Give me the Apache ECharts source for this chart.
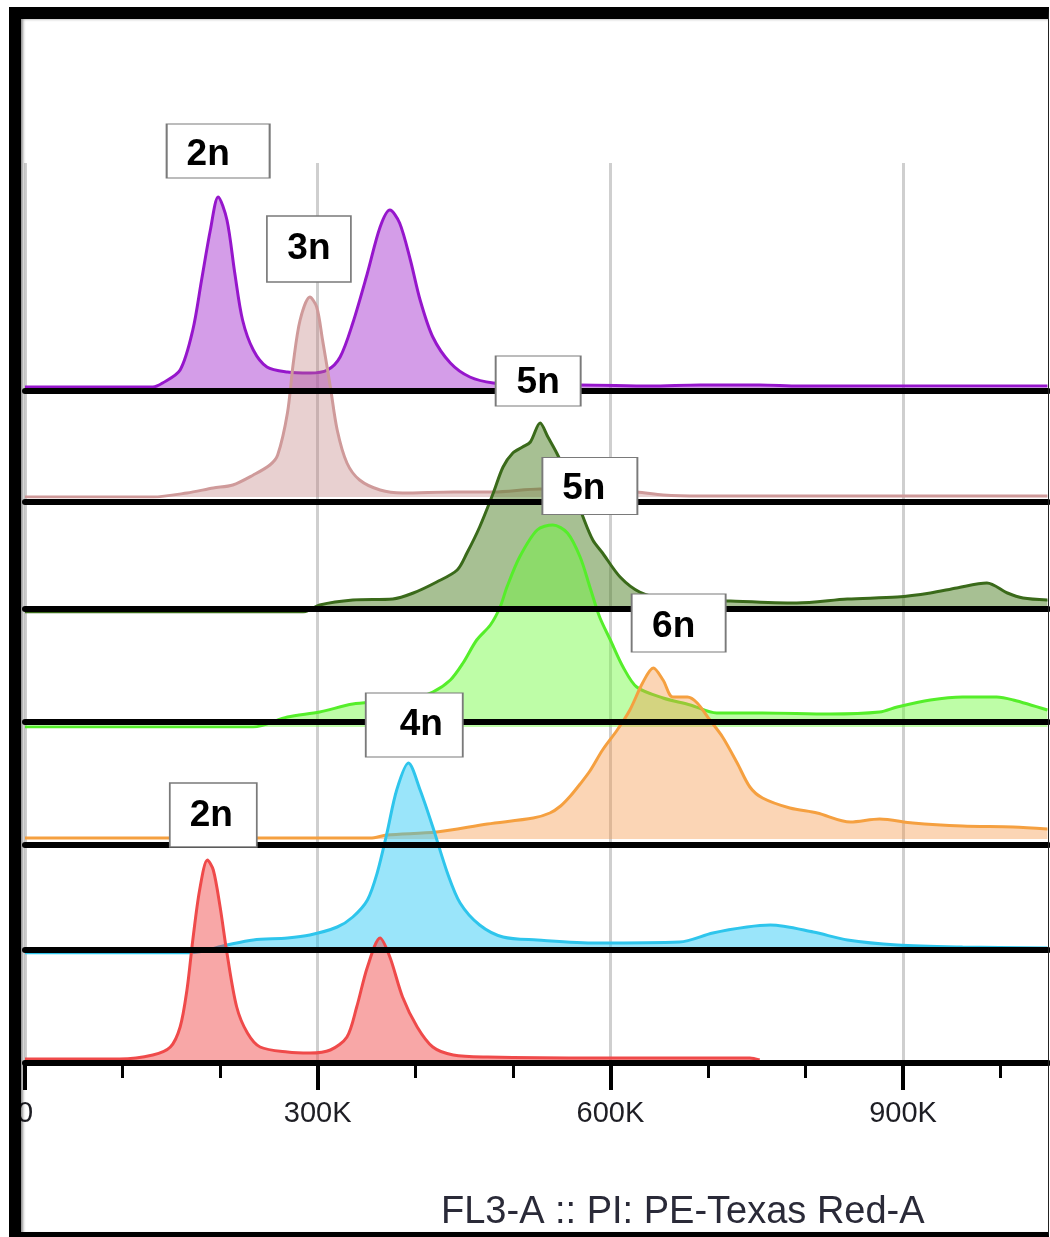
<!DOCTYPE html>
<html>
<head>
<meta charset="utf-8">
<script src="https://cdn.jsdelivr.net/npm/echarts@6/dist/echarts.min.js"></script>
<style>
html, body { margin: 0; padding: 0; background: #fff; }
#wrap { position: relative; width: 1050px; height: 1237px; overflow: hidden; background: #fff; }
#c { position: absolute; left: 0; top: 0; width: 1050px; height: 1237px; }
#frame {
  position: absolute; left: 9px; top: 7px; width: 1040px; height: 1230px;
  box-sizing: border-box;
  border-top: 12px solid #000; border-left: 12px solid #000;
  border-bottom: 5px solid #000; border-right: 1px solid #222;
  box-shadow: inset 3px 1px 3px -1px rgba(0,0,0,0.45);
  pointer-events: none;
}
</style>
</head>
<body>
<div id="wrap"><div id="c"></div><div id="frame"></div></div>
<script>
// ---------------- DATA (FL3-A channel in thousands, event counts) ----------------
const xMaxK = 1048.576;
const tickValues = [0, 300, 600, 900];
const axisTitle = 'FL3-A :: PI: PE-Texas Red-A';
const ploidyLabels = ['2n', '3n', '5n', '5n', '6n', '4n', '2n'];

const purple = [[0,1],[131,1],[141,5],[159,18],[172,58],[181,108],[190,158],[198,191],[207,168],[215,115],[223,68],[234,38],[248,21],[269,16],[292,15],[310,18],[323,31],[336,65],[351,115],[364,161],[374,178],[384,165],[395,128],[405,88],[418,51],[436,25],[456,11],[480,5],[518,3],[569,3],[641,2],[692,3],[753,3],[794,2],[1048,2]];
const pink = [[0,0],[131,0],[166,4],[193,9],[213,12],[234,22],[251,32],[259,42],[269,84],[275,134],[282,177],[292,200],[299,190],[305,157],[313,110],[320,67],[330,34],[343,17],[364,7],[387,4],[439,5],[480,5],[528,8],[589,6],[627,5],[654,2],[692,1],[1048,1]];
const darkGreen = [[0,0],[285,0],[302,7],[336,12],[377,13],[398,19],[422,30],[443,42],[453,59],[466,85],[480,119],[490,145],[500,159],[510,165],[518,170],[528,189],[536,175],[545,159],[559,130],[572,95],[582,72],[592,59],[610,35],[630,20],[654,14],[723,11],[791,9],[843,13],[894,15],[928,19],[955,24],[986,29],[1007,19],[1023,14],[1048,12]];
const brightGreen = [[0,0],[234,0],[269,10],[302,15],[336,23],[364,25],[395,28],[418,35],[436,47],[449,64],[463,87],[477,102],[487,120],[494,140],[507,170],[525,197],[541,202],[556,194],[569,170],[579,140],[589,110],[600,87],[613,60],[627,40],[654,29],[682,22],[709,14],[756,14],[825,13],[876,15],[894,20],[928,27],[961,30],[996,30],[1013,27],[1048,17]];
const orange = [[0,1],[354,1],[371,4],[422,7],[474,15],[521,21],[538,26],[549,33],[559,43],[569,55],[579,68],[592,89],[607,109],[620,129],[633,156],[644,171],[654,159],[664,142],[679,142],[689,136],[702,119],[715,102],[730,76],[743,52],[756,41],[784,31],[812,26],[846,17],[876,20],[910,16],[961,13],[1013,12],[1048,10]];
const cyan = [[0,0],[169,0],[207,8],[234,13],[269,15],[292,18],[320,26],[336,36],[351,53],[361,80],[371,120],[381,163],[393,190],[405,163],[418,126],[433,80],[446,50],[466,28],[490,16],[525,13],[586,10],[671,11],[705,20],[740,26],[764,28],[808,21],[843,13],[894,8],[961,6],[1048,5]];
const red = [[0,1],[97,1],[131,5],[149,13],[159,33],[166,70],[172,120],[179,170],[187,200],[193,190],[200,153],[207,107],[217,53],[228,27],[241,13],[269,8],[292,7],[313,10],[330,23],[340,53],[351,93],[364,122],[374,103],[387,63],[402,33],[418,13],[439,5],[474,3],[589,2],[743,2],[753,0]];

const histograms = [purple, pink, darkGreen, brightGreen, orange, cyan, red];

// ---------------- LAYOUT & STYLE ----------------
const FONT = 'Arial, "Liberation Sans", Helvetica, sans-serif';
const plotLeft = 25, plotRight = 2, plotWidth = 1050 - plotLeft - plotRight;
const laneHeight = 300;              // px per lane == yAxis max
const baselines = [388, 497, 612, 727, 839, 953, 1060];   // fill baseline of each lane
const rules     = [391, 502, 609, 722, 845, 950, 1063];   // black separator line
const lineColors = ['#9616cc', '#cf9a9a', '#3a6a1a', '#55ee2a', '#f5a040', '#2ec5ec', '#ef4a4a'];
const fillColors = ['rgba(170,60,210,0.5)', 'rgba(190,120,120,0.35)', 'rgba(80,130,40,0.5)',
                    'rgba(110,250,60,0.45)', 'rgba(245,150,70,0.4)', 'rgba(40,200,245,0.47)', 'rgba(240,60,60,0.45)'];
// label box anchors in data space of each lane: [channel K, count]
const labelAnchors = [[198,237],[291,248],[526,231],[579,241],[670,216],[399,228],[193,245]];
const labelBoxes = [[103,54],[84,66],[85,50],[95,57],[94,58],[97,64],[87,64]];
const labelShift = [[-10,4],[0,0],[0,2],[-6,3],[-5,4],[7,0],[-2,1]];

const grids = [], xAxes = [], yAxes = [], series = [];
histograms.forEach((data, i) => {
  grids.push({ left: plotLeft, right: plotRight, top: baselines[i] - laneHeight, height: laneHeight, outerBoundsMode: 'none' });
  xAxes.push({
    gridIndex: i, type: 'value', min: 0, max: xMaxK, offset: rules[i] - baselines[i], z: 10,
    axisLine: { show: true, onZero: false, lineStyle: { color: '#000', width: 6 } },
    axisTick: { show: false }, axisLabel: { show: false }, splitLine: { show: false }
  });
  yAxes.push({ gridIndex: i, type: 'value', min: 0, max: laneHeight, show: false });
  series.push({
    type: 'line', xAxisIndex: i, yAxisIndex: i, data: data,
    smooth: 0.3, symbol: 'none', showSymbol: false, z: 2 + i * 0.01,
    lineStyle: { color: lineColors[i], width: 3 },
    itemStyle: { color: lineColors[i] },
    areaStyle: { color: fillColors[i], opacity: 1, origin: 'start' },
    emphasis: { disabled: true },
    markPoint: {
      z: 20, silent: true, symbol: 'rect', symbolSize: labelBoxes[i],
      itemStyle: { color: '#fff', borderColor: '#7a7a7a', borderWidth: 1.5 },
      label: { show: true, position: 'inside', formatter: ploidyLabels[i], offset: labelShift[i],
               fontSize: 37, fontWeight: 'bold', color: '#000', fontFamily: FONT },
      emphasis: { disabled: true },
      data: [{ coord: labelAnchors[i] }]
    }
  });
});

const axisTop = 163, axisY = 1063;
// major ticks, labels and vertical grid lines
grids.push({ left: plotLeft, width: plotWidth * 900 / xMaxK, top: axisTop, height: axisY - axisTop, outerBoundsMode: 'none' });
xAxes.push({
  gridIndex: 7, type: 'value', min: tickValues[0], max: tickValues[tickValues.length - 1], interval: 300, z: 1,
  axisLine: { show: false },
  axisTick: { show: true, length: 27, lineStyle: { color: '#000', width: 4 } },
  axisLabel: { show: true, margin: 36, fontSize: 29, color: '#1e1e24', fontFamily: FONT,
               formatter: v => (v === 0 ? '0' : v + 'K') },
  splitLine: { show: true, lineStyle: { color: '#cfcfcf', width: 3 } }
});
yAxes.push({ gridIndex: 7, type: 'value', show: false, min: 0, max: 1 });
// minor ticks every 100K
grids.push({ left: plotLeft, width: plotWidth * 1000 / xMaxK, top: axisTop, height: axisY - axisTop, outerBoundsMode: 'none' });
xAxes.push({
  gridIndex: 8, type: 'value', min: 0, max: 1000, interval: 100, z: 1,
  axisLine: { show: false },
  axisTick: { show: true, length: 15, lineStyle: { color: '#000', width: 3 } },
  axisLabel: { show: false }, splitLine: { show: false }
});
yAxes.push({ gridIndex: 8, type: 'value', show: false, min: 0, max: 1 });

const chart = echarts.init(document.getElementById('c'), null, { renderer: 'canvas' });
chart.setOption({
  animation: false,
  backgroundColor: '#fff',
  title: {
    text: axisTitle, left: 441, top: 1194, padding: 0,
    textStyle: { fontSize: 38, fontWeight: 'normal', color: '#2a2a38', fontFamily: FONT }
  },
  grid: grids, xAxis: xAxes, yAxis: yAxes, series: series
});
</script>
</body>
</html>
